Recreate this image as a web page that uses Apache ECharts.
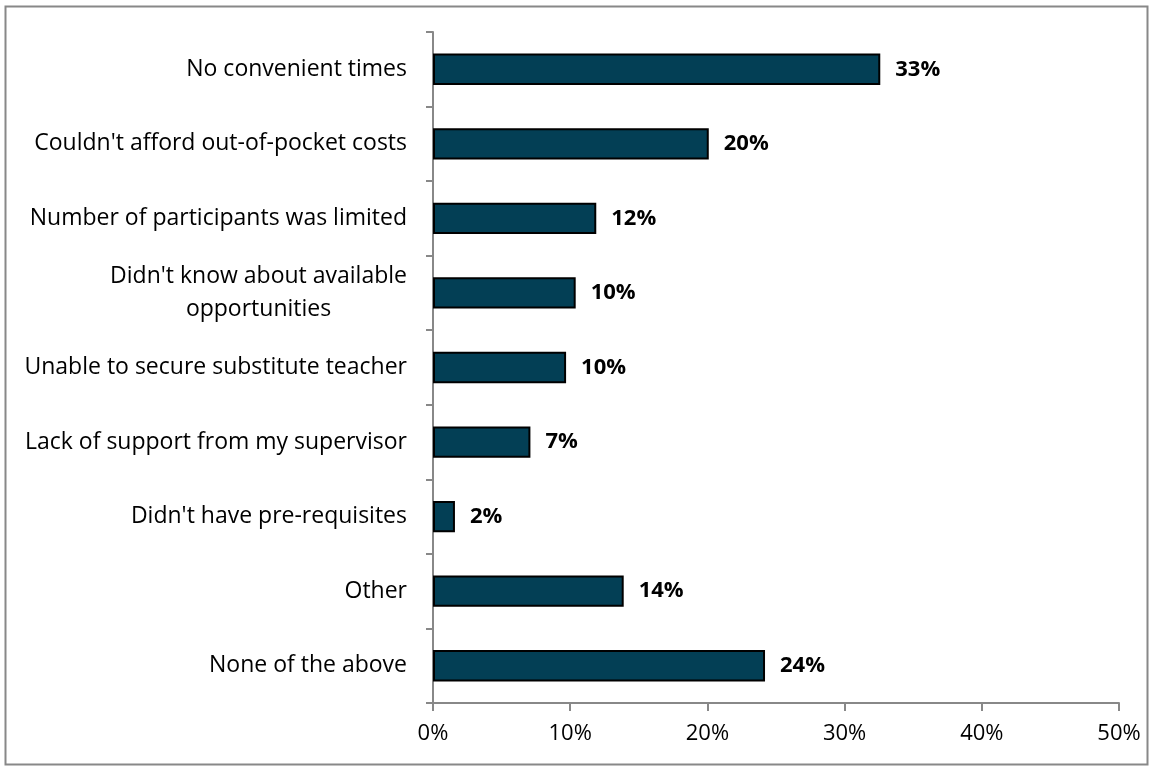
<!DOCTYPE html>
<html>
<head>
<meta charset="utf-8">
<script src="https://cdn.jsdelivr.net/npm/echarts@6/dist/echarts.min.js"></script>
<style>
html,body{margin:0;padding:0;background:#fff;}
#chart{width:1153px;height:772px;}
</style>
</head>
<body>
<div id="chart"></div>
<script>
const categories = [
  "No convenient times",
  "Couldn't afford out-of-pocket costs",
  "Number of participants was limited",
  "Didn't know about available\nopportunities",
  "Unable to secure substitute teacher",
  "Lack of support from my supervisor",
  "Didn't have pre-requisites",
  "Other",
  "None of the above"
];
const values = [32.6, 20.1, 11.9, 10.4, 9.7, 7.1, 1.6, 13.9, 24.2];
const valueLabels = ["33%", "20%", "12%", "10%", "10%", "7%", "2%", "14%", "24%"];
const xTicks = [0, 10, 20, 30, 40, 50];

const FONT = "'Open Sans', sans-serif";
const chart = echarts.init(document.getElementById('chart'), null, {renderer: 'canvas'});
chart.setOption({
  animation: false,
  backgroundColor: '#fff',
  graphic: [{
    type: 'rect',
    shape: {x: 5.5, y: 6.5, width: 1142, height: 758},
    style: {fill: 'none', stroke: '#888888', lineWidth: 2},
    silent: true
  }],
  grid: {left: 433, right: 34, top: 32, bottom: 69, containLabel: false},
  xAxis: {
    type: 'value',
    min: xTicks[0],
    max: xTicks[xTicks.length - 1],
    interval: 10,
    axisLine: {show: true, lineStyle: {color: '#888888', width: 2}},
    axisTick: {show: true, length: 8, lineStyle: {color: '#888888', width: 2}},
    splitLine: {show: false},
    axisLabel: {
      formatter: v => v + '%',
      color: '#000', fontFamily: FONT, fontSize: 22, margin: 20
    }
  },
  yAxis: {
    type: 'category',
    data: categories,
    inverse: true,
    axisLine: {show: true, lineStyle: {color: '#888888', width: 2}},
    axisTick: {show: true, length: 7, lineStyle: {color: '#888888', width: 2}},
    axisLabel: {
      color: '#000', fontFamily: FONT, fontSize: 23, margin: 26,
      lineHeight: 33,
      formatter: function (v) {
        return v.split('\n').map(s => '{c|' + s + '}').join('\n');
      },
      rich: {c: {align: 'center', color: '#000', fontFamily: FONT, fontSize: 23, lineHeight: 33}}
    }
  },
  series: [{
    type: 'bar',
    data: values,
    barWidth: '42%',
    itemStyle: {color: '#033F55', borderColor: '#000000', borderWidth: 2},
    label: {
      show: true,
      position: 'right',
      distance: 15,
      formatter: p => valueLabels[p.dataIndex],
      color: '#000', fontFamily: FONT, fontWeight: 'bold', fontSize: 22
    }
  }]
});
</script>
</body>
</html>
